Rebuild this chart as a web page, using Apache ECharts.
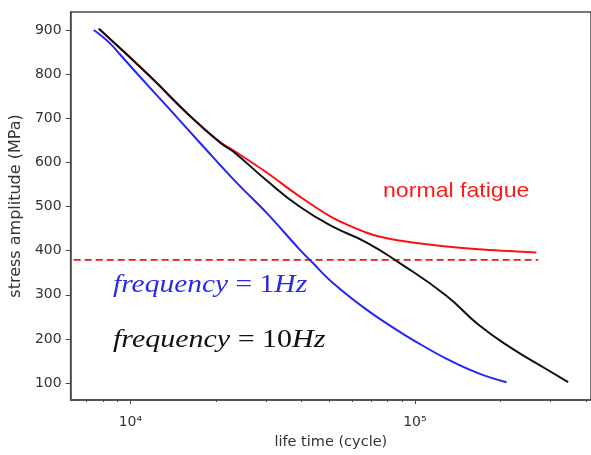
<!DOCTYPE html>
<html><head><meta charset="utf-8">
<script src="https://cdn.jsdelivr.net/npm/echarts@6/dist/echarts.min.js"></script>
<style>html,body{margin:0;padding:0;background:#fff}#c{width:591px;height:455px}</style>
</head><body><div id="c"></div>
<script>
// life time (cycles) and stress amplitude (MPa)
const cycles1Hz  = [7440, 8377, 9300, 10665, 13580, 18040, 23610, 30060, 39300, 43630, 51260, 67430, 87900, 97600, 128300, 167400, 209800];
const stress1Hz  = [900, 873, 841, 798, 724, 636, 554, 486, 403, 373, 328, 267, 217, 199, 156, 122, 102];
const cycles10Hz = [7750, 9475, 12060, 15790, 20640, 22920, 30130, 39300, 51260, 67430, 87900, 128300, 167400, 218400, 287100, 345500];
const stress10Hz = [903, 851, 787, 712, 645, 625, 559, 500, 455, 419, 373, 299, 232, 179, 133, 102];
const cyclesNormal = [7750, 9475, 12060, 15790, 20640, 22920, 30130, 39300, 51260, 67430, 74820, 87900, 111900, 167400, 267100];
const stressNormal = [903, 851, 787, 712, 646, 628, 577, 523, 475, 441, 432, 423, 414, 403, 396];
const limitCycles = [6320, 271400];
const limitStress = [379, 379];
const yTicks = [100, 200, 300, 400, 500, 600, 700, 800, 900];
const xMajorTicks = [10000, 100000];
const xMinorTicks = [7000, 8000, 9000, 20000, 30000, 40000, 50000, 60000, 70000, 80000, 90000, 200000, 300000, 400000];

const zip = (a, b) => a.map((v, i) => [v, b[i]]);
const sup = {'4': '\u2074', '5': '\u2075', '6': '\u2076', '3': '\u00b3'};
const axisColor = '#4a4a4a';
const font = 'DejaVu Sans';

const chart = echarts.init(document.getElementById('c'), null, {renderer: 'canvas'});
chart.setOption({
  animation: false,
  backgroundColor: '#ffffff',
  grid: {left: 70, top: 12, right: -2, bottom: 54, show: true, borderColor: axisColor, borderWidth: 1.5, backgroundColor: 'transparent'},
  xAxis: [{
    type: 'log', min: 6166, max: 415700, position: 'bottom',
    name: 'life time (cycle)', nameLocation: 'middle', nameGap: 35,
    nameTextStyle: {fontFamily: font, fontSize: 14.5, color: '#333'},
    axisLine: {show: true, lineStyle: {color: axisColor, width: 1.5}},
    axisTick: {show: true, length: 4, lineStyle: {color: axisColor, width: 1}, customValues: xMajorTicks},
    axisLabel: {customValues: xMajorTicks, margin: 15, fontFamily: font, fontSize: 14, color: '#333',
      formatter: v => '10' + sup[String(Math.round(Math.log10(v)))]},
    splitLine: {show: false}, minorTick: {show: false}
  }, {
    type: 'log', min: 6166, max: 415700, position: 'bottom', gridIndex: 0,
    axisLine: {show: false},
    axisTick: {show: true, length: 2, lineStyle: {color: axisColor, width: 1}, customValues: xMinorTicks},
    axisLabel: {show: false}, splitLine: {show: false}
  }],
  yAxis: {
    type: 'value', min: 61.6, max: 940.7,
    name: 'stress amplitude (MPa)', nameLocation: 'middle', nameGap: 44, nameRotate: 90,
    nameTextStyle: {fontFamily: font, fontSize: 16, color: '#333'},
    axisLine: {show: true, lineStyle: {color: axisColor, width: 1.5}},
    axisTick: {show: true, length: 5, lineStyle: {color: axisColor, width: 1}, customValues: yTicks},
    axisLabel: {customValues: yTicks, margin: 9, fontFamily: font, fontSize: 14, color: '#333'},
    splitLine: {show: false}
  },
  series: [
    {type: 'line', name: 'normal fatigue', data: zip(cyclesNormal, stressNormal), showSymbol: false, symbol: 'none',
     smooth: 0.3, lineStyle: {color: '#ff1010', width: 2}},
    {type: 'line', name: 'limit', data: zip(limitCycles, limitStress), showSymbol: false, symbol: 'none',
     lineStyle: {color: '#ff1010', width: 1.6, type: [7, 4]}},
    {type: 'line', name: '1Hz', data: zip(cycles1Hz, stress1Hz), showSymbol: false, symbol: 'none',
     smooth: 0.4, lineStyle: {color: '#2424ff', width: 2}},
    {type: 'line', name: '10Hz', data: zip(cycles10Hz, stress10Hz), showSymbol: false, symbol: 'none',
     smooth: 0.5, lineStyle: {color: '#111111', width: 2}}
  ],
  graphic: [
    {type: 'text', x: 383, y: 191, scaleX: 1.1, style: {text: 'normal fatigue', fontFamily: 'Liberation Sans', fontSize: 21, fill: '#ff1a1a', textVerticalAlign: 'middle'}},
    {type: 'text', x: 113, y: 285, scaleX: 1.18, style: {
      text: '{i|frequency}{n| = 1}{i|Hz}', fill: '#2a2aee', textVerticalAlign: 'middle',
      fontFamily: 'Liberation Serif', fontSize: 25,
      rich: {
        i: {fontFamily: 'Liberation Serif', fontSize: 25, fontStyle: 'italic', fill: '#2a2aee'},
        n: {fontFamily: 'Liberation Serif', fontSize: 25, fontStyle: 'normal', fill: '#2a2aee'}
      }}},
    {type: 'text', x: 113, y: 340, scaleX: 1.2, style: {
      text: '{i|frequency}{n| = 10}{i|Hz}', fill: '#111', textVerticalAlign: 'middle',
      fontFamily: 'Liberation Serif', fontSize: 25,
      rich: {
        i: {fontFamily: 'Liberation Serif', fontSize: 25, fontStyle: 'italic', fill: '#111'},
        n: {fontFamily: 'Liberation Serif', fontSize: 25, fontStyle: 'normal', fill: '#111'}
      }}}
  ]
});
</script></body></html>
